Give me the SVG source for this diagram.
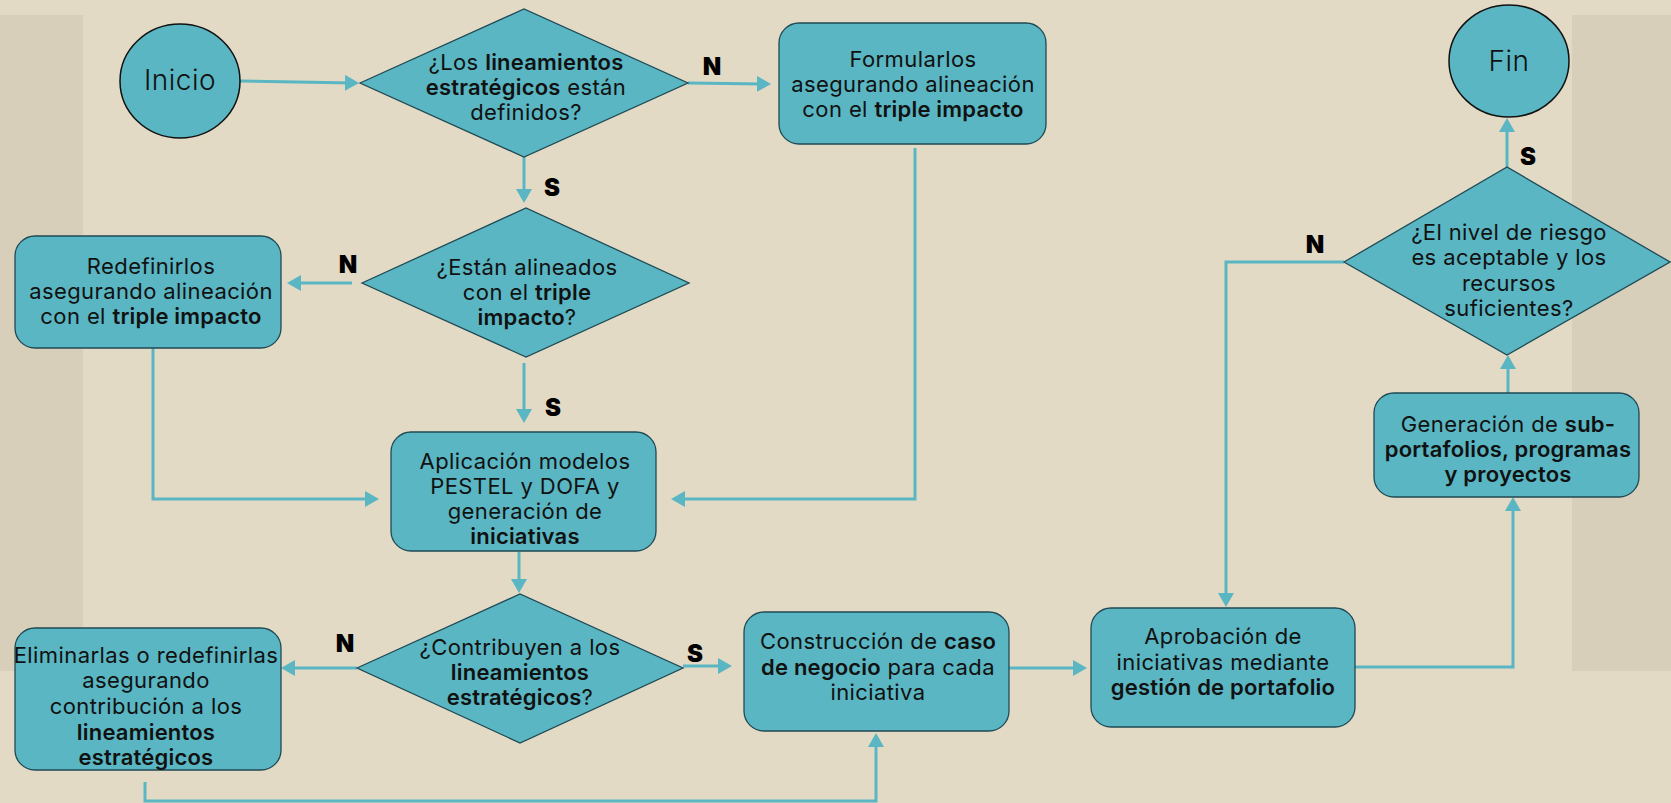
<svg xmlns="http://www.w3.org/2000/svg" width="1671" height="803" viewBox="0 0 1671 803">
<defs>
<style>
.bg{fill:#E2DAC4}
.panel{fill:#D8CFBB}
.shape{fill:#59B6C2;stroke:#1F4A55;stroke-width:1.3}
.circ{fill:#59B6C2;stroke:#111;stroke-width:1.5}
.t{font-family:Inter,"Noto Sans","DejaVu Sans",sans-serif;font-size:22px;letter-spacing:0.4px;fill:#111;text-anchor:middle}
.b{font-weight:600;letter-spacing:0.2px}
.big{font-size:28px;font-weight:300;letter-spacing:0.5px}
.lbl{font-family:Inter,"Liberation Sans",sans-serif;font-size:24px;font-weight:900;fill:#000;text-anchor:middle}
.c{fill:none;stroke:#5AB6C2;stroke-width:3}
</style>
<marker id="ah" viewBox="0 0 14 16" refX="8" refY="8" markerWidth="14" markerHeight="16" markerUnits="userSpaceOnUse" orient="auto">
<path d="M0,0 L14,8 L0,16 Z" fill="#5AB6C2"/>
</marker>
</defs>
<rect class="bg" x="0" y="0" width="1671" height="803"/>
<rect class="panel" x="0" y="15" width="83" height="656"/>
<rect class="panel" x="1572" y="15" width="99" height="656"/>

<g id="connectors">
<path class="c" d="M240,81 L353,83" marker-end="url(#ah)"/>
<path class="c" d="M688,83 L765,84" marker-end="url(#ah)"/>
<path class="c" d="M524,157 L524,197" marker-end="url(#ah)"/>
<path class="c" d="M915,148 L915,499 L677,499" marker-end="url(#ah)"/>
<path class="c" d="M352,283 L293,283" marker-end="url(#ah)"/>
<path class="c" d="M153,348 L153,499 L373,499" marker-end="url(#ah)"/>
<path class="c" d="M524,363 L524,417" marker-end="url(#ah)"/>
<path class="c" d="M519,552 L519,587" marker-end="url(#ah)"/>
<path class="c" d="M357,668 L287,668" marker-end="url(#ah)"/>
<path class="c" d="M683,666 L726,666" marker-end="url(#ah)"/>
<path class="c" d="M145,782 L145,801 L876,801 L876,739" marker-end="url(#ah)"/>
<path class="c" d="M1009,668 L1081,668" marker-end="url(#ah)"/>
<path class="c" d="M1355,667 L1513,667 L1513,503" marker-end="url(#ah)"/>
<path class="c" d="M1508,393 L1508,361" marker-end="url(#ah)"/>
<path class="c" d="M1507,167 L1507,124" marker-end="url(#ah)"/>
<path class="c" d="M1344,262 L1226,262 L1226,601" marker-end="url(#ah)"/>
<text class="lbl" x="712" y="75">N</text>
<text class="lbl" x="552" y="196">S</text>
<text class="lbl" x="348" y="273">N</text>
<text class="lbl" x="553" y="416">S</text>
<text class="lbl" x="345" y="652">N</text>
<text class="lbl" x="695" y="662">S</text>
<text class="lbl" x="1315" y="253">N</text>
<text class="lbl" x="1528" y="165">S</text>
</g>

<g id="inicio">
<ellipse class="circ" cx="180" cy="81" rx="60" ry="57"/>
<text class="t big" x="180" y="90">Inicio</text>
</g>

<g id="fin">
<ellipse class="circ" cx="1509" cy="61" rx="60" ry="56"/>
<text class="t big" x="1509" y="71">Fin</text>
</g>

<g id="d1">
<polygon class="shape" points="360,83 524,9 688,83 524,157"/>
<text class="t" x="526" y="70">¿Los <tspan class="b">lineamientos</tspan></text>
<text class="t" x="526" y="95"><tspan class="b">estratégicos</tspan> están</text>
<text class="t" x="526" y="120">definidos?</text>
</g>

<g id="formularlos">
<rect class="shape" x="779" y="23" width="267" height="121" rx="20"/>
<text class="t" x="913" y="67">Formularlos</text>
<text class="t" x="913" y="92">asegurando alineación</text>
<text class="t" x="913" y="117">con el <tspan class="b">triple impacto</tspan></text>
</g>

<g id="d2">
<polygon class="shape" points="362,283 526,208 689,283 526,357"/>
<text class="t" x="527" y="275">¿Están alineados</text>
<text class="t" x="527" y="300">con el <tspan class="b">triple</tspan></text>
<text class="t" x="527" y="325"><tspan class="b">impacto</tspan>?</text>
</g>

<g id="redefinirlos">
<rect class="shape" x="15" y="236" width="266" height="112" rx="20"/>
<text class="t" x="151" y="274">Redefinirlos</text>
<text class="t" x="151" y="299">asegurando alineación</text>
<text class="t" x="151" y="324">con el <tspan class="b">triple impacto</tspan></text>
</g>

<g id="aplicacion">
<rect class="shape" x="391" y="432" width="265" height="119" rx="20"/>
<text class="t" x="525" y="469">Aplicación modelos</text>
<text class="t" x="525" y="494">PESTEL y DOFA y</text>
<text class="t" x="525" y="519">generación de</text>
<text class="t" x="525" y="544"><tspan class="b">iniciativas</tspan></text>
</g>

<g id="d3">
<polygon class="shape" points="357,668 520,594 683,668 520,743"/>
<text class="t" x="520" y="655">¿Contribuyen a los</text>
<text class="t" x="520" y="680"><tspan class="b">lineamientos</tspan></text>
<text class="t" x="520" y="705"><tspan class="b">estratégicos</tspan>?</text>
</g>

<g id="eliminarlas">
<rect class="shape" x="15" y="628" width="266" height="142" rx="20"/>
<text class="t" x="146" y="663">Eliminarlas o redefinirlas</text>
<text class="t" x="146" y="688">asegurando</text>
<text class="t" x="146" y="714">contribución a los</text>
<text class="t" x="146" y="740"><tspan class="b">lineamientos</tspan></text>
<text class="t" x="146" y="765"><tspan class="b">estratégicos</tspan></text>
</g>

<g id="construccion">
<rect class="shape" x="744" y="612" width="265" height="119" rx="20"/>
<text class="t" x="878" y="649">Construcción de <tspan class="b">caso</tspan></text>
<text class="t" x="878" y="675"><tspan class="b">de negocio</tspan> para cada</text>
<text class="t" x="878" y="700">iniciativa</text>
</g>

<g id="aprobacion">
<rect class="shape" x="1091" y="608" width="264" height="119" rx="20"/>
<text class="t" x="1223" y="644">Aprobación de</text>
<text class="t" x="1223" y="670">iniciativas mediante</text>
<text class="t" x="1223" y="695"><tspan class="b">gestión de portafolio</tspan></text>
</g>

<g id="generacion">
<rect class="shape" x="1374" y="393" width="265" height="104" rx="20"/>
<text class="t" x="1508" y="432">Generación de <tspan class="b">sub-</tspan></text>
<text class="t" x="1508" y="457"><tspan class="b">portafolios, programas</tspan></text>
<text class="t" x="1508" y="482"><tspan class="b">y proyectos</tspan></text>
</g>

<g id="d4">
<polygon class="shape" points="1344,262 1507,167 1670,262 1507,355"/>
<text class="t" x="1509" y="240">¿El nivel de riesgo</text>
<text class="t" x="1509" y="265">es aceptable y los</text>
<text class="t" x="1509" y="291">recursos</text>
<text class="t" x="1509" y="316">suficientes?</text>
</g>
</svg>
